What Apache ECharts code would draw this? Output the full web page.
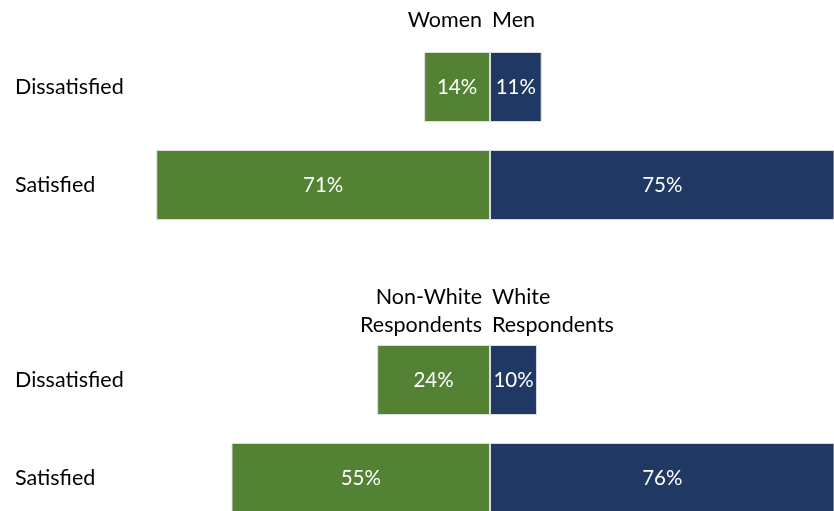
<!DOCTYPE html>
<html>
<head>
<meta charset="utf-8">
<script src="https://cdn.jsdelivr.net/npm/echarts@6/dist/echarts.min.js"></script>
<style>
  html, body { margin: 0; padding: 0; background: #fff; }
  #chart { width: 834px; height: 511px; }
</style>
</head>
<body>
<div id="chart"></div>
<script>
// Satisfaction by group, shown as back-to-back bars around a shared zero line
const categories = ['Dissatisfied', 'Satisfied'];

const genderLeftName = 'Women';
const genderRightName = 'Men';
const womenValues = [14, 71];
const menValues = [11, 75];

const raceLeftName = 'Non-White\nRespondents';
const raceRightName = 'White\nRespondents';
const nonWhiteValues = [24, 55];
const whiteValues = [10, 76];

const GREEN = '#548235';
const NAVY = '#203864';
const FONT = 'Lato, "Open Sans", sans-serif';

const chart = echarts.init(document.getElementById('chart'));

function xAxisFor(gridIndex) {
  return {
    gridIndex, type: 'value', min: -104.26, max: 73.2,
    show: false, splitLine: { show: false }
  };
}
function yAxisFor(gridIndex) {
  return {
    gridIndex, type: 'category', data: categories, inverse: true,
    axisLine: { show: false }, axisTick: { show: false },
    axisLabel: {
      inside: true, margin: 15, color: '#000', fontSize: 21.5,
      fontFamily: FONT
    }
  };
}
function barSeries(idx, values, color, sign) {
  return {
    type: 'bar', xAxisIndex: idx, yAxisIndex: idx,
    data: values.map(v => sign * v),
    barWidth: 70, barGap: '-100%',
    itemStyle: { color, borderColor: '#dcdcdc', borderWidth: 1 },
    label: {
      show: true, position: 'inside', color: '#fff', fontSize: 20.5,
      fontFamily: FONT,
      formatter: p => Math.abs(p.value) + '%'
    },
    silent: true
  };
}
function header(text, x, y, align) {
  return {
    type: 'text', x, y,
    style: {
      text, x: 0, y: 0, align, verticalAlign: 'top',
      fill: '#000', font: '21.5px ' + FONT, lineHeight: 28
    }
  };
}

chart.setOption({
  animation: false,
  grid: [
    { left: 0, right: 0, top: 38, height: 196, outerBoundsMode: 'none' },
    { left: 0, right: 0, top: 331, height: 196, outerBoundsMode: 'none' }
  ],
  xAxis: [xAxisFor(0), xAxisFor(1)],
  yAxis: [yAxisFor(0), yAxisFor(1)],
  series: [
    barSeries(0, womenValues, GREEN, -1),
    barSeries(0, menValues, NAVY, 1),
    barSeries(1, nonWhiteValues, GREEN, -1),
    barSeries(1, whiteValues, NAVY, 1)
  ],
  graphic: [
    header(genderLeftName, 482, 6, 'right'),
    header(genderRightName, 492, 6, 'left'),
    header(raceLeftName, 482, 283, 'right'),
    header(raceRightName, 492, 283, 'left')
  ]
});
</script>
</body>
</html>
